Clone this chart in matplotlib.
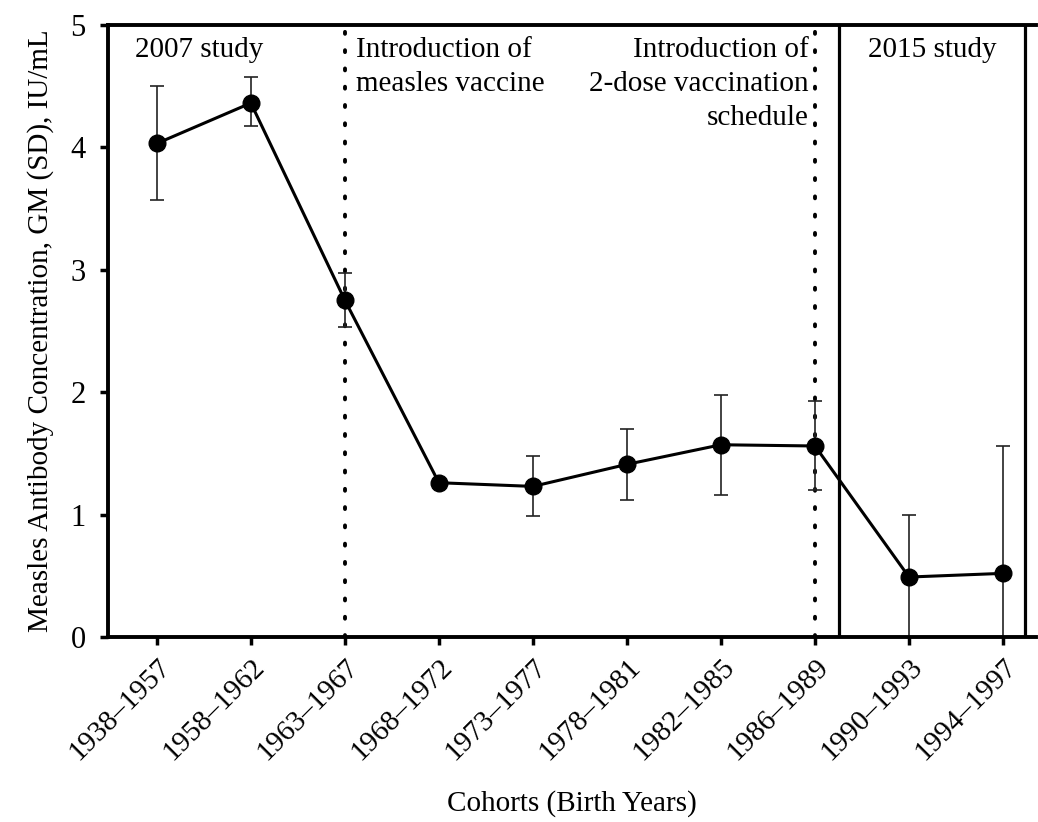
import matplotlib.pyplot as plt
import numpy as np

plt.rcParams['font.family'] = ['Liberation Serif', 'DejaVu Serif']

cohortes = ['1938–1957', '1958–1962', '1963–1967', '1968–1972', '1973–1977',
            '1978–1981', '1982–1985', '1986–1989', '1990–1993', '1994–1997']
media = [4.03, 4.36, 2.75, 1.26, 1.23, 1.41, 1.57, 1.56, 0.49, 0.52]
limite_sup = [4.50, 4.57, 2.97, 1.28, 1.48, 1.70, 1.98, 1.93, 1.00, 1.56]
limite_inf = [3.57, 4.17, 2.53, 1.24, 0.99, 1.12, 1.16, 1.20, 0.00, 0.00]

x = np.arange(len(cohortes))
media = np.array(media)
erro = [media - np.array(limite_inf), np.array(limite_sup) - media]

fig = plt.figure(figsize=(10.38, 8.22), dpi=100)
ax = fig.add_axes([0.104, 0.225, 0.894, 0.745])

ax.errorbar(x, media, yerr=erro, fmt='none', ecolor='#222222', elinewidth=1.2,
            capsize=5, capthick=1.2, zorder=2)
ax.plot(x, media, color='black', lw=2.2, marker='o', markersize=12, zorder=3)

# linhas de marco
ax.axvline(2, color='black', lw=2.8, linestyle=(0, (0.5, 4.2)), dash_capstyle='round', zorder=1)
ax.axvline(7, color='black', lw=2.8, linestyle=(0, (0.5, 4.2)), dash_capstyle='round', zorder=1)
ax.axvline(7.26, color='black', lw=2.3, zorder=1)
ax.axvline(9.23, color='black', lw=2.3, zorder=1)

ax.text(0.45, 4.9, '2007 study', ha='center', va='top', fontsize=21)
ax.text(2.12, 4.9, 'Introduction of\nmeasles vaccine', ha='left', va='top', fontsize=21,
        linespacing=1.4)
ax.text(6.93, 4.9, 'Introduction of\n2-dose vaccination\nschedule', ha='right', va='top',
        fontsize=21, linespacing=1.4)
ax.text(8.245, 4.9, '2015 study', ha='center', va='top', fontsize=21)

ax.set_xlim(-0.52, 9.35)
ax.set_ylim(0, 5)
ax.set_yticks([0, 1, 2, 3, 4, 5])
ax.set_xticks(x)
ax.set_xticklabels(cohortes, rotation=45, ha='right', rotation_mode='anchor', fontsize=21)
ax.tick_params(axis='y', labelsize=22, width=2.5, length=6, direction='out', pad=10)
ax.tick_params(axis='x', width=2.5, length=6, direction='out', pad=6)

for lado in ['left', 'bottom', 'top']:
    ax.spines[lado].set_linewidth(2.8)
ax.spines['right'].set_visible(False)

ax.set_ylabel('Measles Antibody Concentration, GM (SD), IU/mL', fontsize=21, labelpad=12)
ax.set_xlabel('Cohorts (Birth Years)', fontsize=21, labelpad=18)

fig.savefig('out.png', dpi=100, facecolor='white')
